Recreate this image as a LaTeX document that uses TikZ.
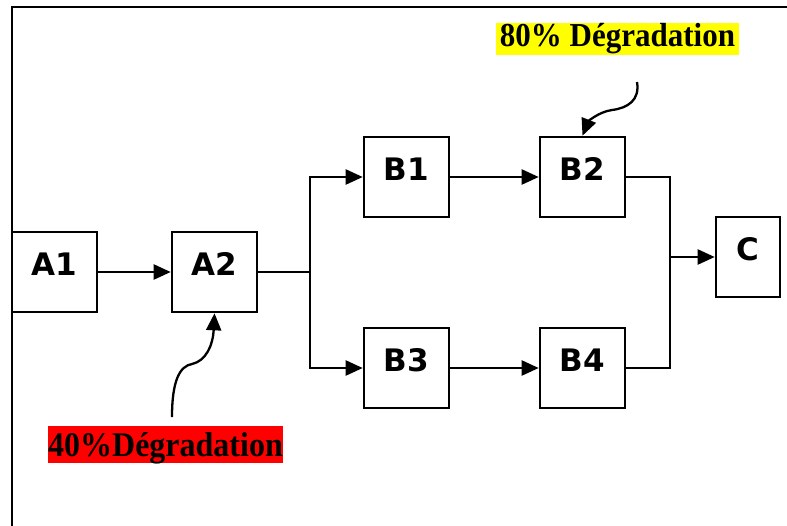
\documentclass[tikz,border=0pt]{standalone}
\usepackage{fontspec}
\newfontfamily\boxfont{DejaVu Sans}
\newfontfamily\labfont{Liberation Serif}
\usetikzlibrary{arrows.meta}
\definecolor{hlyellow}{RGB}{255,255,0}
\definecolor{hlred}{RGB}{255,0,0}
\tikzset{
  blk/.style={draw, line width=2.6pt, minimum width=85pt, minimum height=80pt, inner sep=0pt,
    font=\boxfont\bfseries\fontsize{31}{36}\selectfont, text height=22pt, text depth=16pt},
  conn/.style={line width=2.3pt},
  arr/.style={conn, -{Triangle[length=17pt,width=15pt]}},
  lab/.style={inner sep=0pt, font=\labfont\bfseries\fontsize{31}{36}\selectfont}
}
\begin{document}
\begin{tikzpicture}[x=1pt,y=-1pt]
\useasboundingbox (0,0) rectangle (787,525);
\draw[line width=2.6pt] (12,526) -- (12,7) -- (788,7);
% boxes
\node[blk] (A1) at (54.5,272) {A1};
\node[blk] (A2) at (214.5,272) {A2};
\node[blk] (B1) at (406.5,177) {B1};
\node[blk] (B2) at (582.5,177) {B2};
\node[blk] (B3) at (406.5,368) {B3};
\node[blk] (B4) at (582.5,368) {B4};
\node[blk, minimum width=64pt] (C) at (748,257) {C};
% labels
\node[lab, fill=hlyellow, minimum width=243pt, text height=23pt, text depth=9pt] (L80) at (617.5,39) {\scalebox{1}[1.08]{80\% Dégradation}};
\node[lab, fill=hlred, font=\labfont\bfseries\fontsize{32}{38}\selectfont, minimum width=235pt, text height=30pt, text depth=7pt] (L40) at (165.5,444.5) {\scalebox{1}[1.08]{40\%Dégradation}};
% connectors
\coordinate (split) at (310,272);
\coordinate (join) at (670,257);
\draw[arr] (A1.east) -- (A2.west);
\draw[conn] (A2.east) -- (split);
\draw[arr] (split) |- (B1.west);
\draw[arr] (split) |- (B3.west);
\draw[arr] (B1.east) -- (B2.west);
\draw[arr] (B3.east) -- (B4.west);
\draw[conn] (B2.east) -| (join);
\draw[conn] (B4.east) -| (join);
\draw[arr] (join) -- (C.west);
% degradation arrows
\coordinate (s40) at (172,417);
\coordinate (s80) at (637,82);
\draw[arr] (s40) .. controls (172,380) and (180,366) .. (192,364) .. controls (206,361) and (213,345) .. (A2.south);
\draw[arr] (s80) .. controls (640,100) and (628,108) .. (612,110) .. controls (598,112) and (588,122) .. (B2.north);
\end{tikzpicture}
\end{document}
